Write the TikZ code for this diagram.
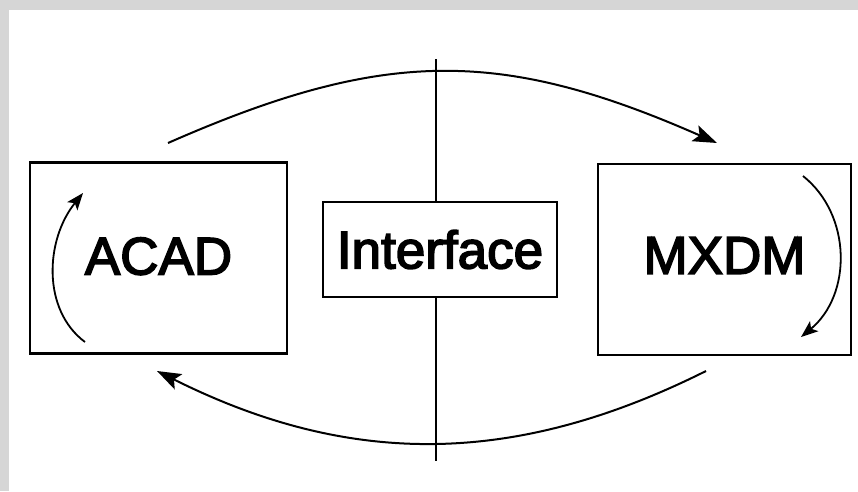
\documentclass[tikz,border=0pt]{standalone}
\usepackage{fontspec}
\setmainfont{Liberation Sans}[BoldFont=Liberation Sans,BoldFeatures={FakeBold=3}]
\usetikzlibrary{arrows.meta}
\definecolor{framegray}{HTML}{D6D6D6}

\begin{document}
\begin{tikzpicture}[x=1pt,y=-1pt,
box/.style={draw,line width=2.4pt,inner sep=0pt,font=\fontsize{53}{60}\selectfont\bfseries},
flow/.style={line width=2pt,-{Stealth[length=24pt,width=17pt,inset=5pt]}},
turn/.style={line width=1.8pt,-{Stealth[length=17pt,width=13pt,inset=4pt]}},
axis/.style={line width=2pt},
]
\fill[framegray] (0,0) rectangle (858,491);
\fill[white] (9,10) rectangle (858,491);
\useasboundingbox (0,0) rectangle (858,491);

\node[box,minimum width=257pt,minimum height=191pt] (acad) at (158.5,258) {\raisebox{4pt}{ACAD}};
\node[box,line width=1.8pt,minimum width=234pt,minimum height=95pt] (iface) at (440,249.5) {Interface};
\node[box,minimum width=253pt,minimum height=191pt] (mxdm) at (724.5,259.5) {\raisebox{8pt}{MXDM}};

% axis through the interface
\coordinate (up) at (436,59);
\coordinate (down) at (436,461);
\draw[axis] (up) -- (up |- iface.north);
\draw[axis,line width=1.6pt] (iface.south -| down) -- (down);

% exchange between the two sides
\coordinate (ts) at (168,143);
\coordinate (te) at (717,143);
\coordinate (bs) at (706,371);
\coordinate (be) at (157,371);
\draw[flow] (ts) .. controls (384,48) and (501,48) .. (te);
\draw[flow] (bs) .. controls (514,467) and (349,467) .. (be);

% inner cycles
\coordinate (as) at (85,342);
\coordinate (ae) at (83,193);
\coordinate (ms) at (803,176);
\coordinate (me) at (801,337);
\draw[turn] (as) .. controls (42,310) and (45,240) .. (ae);
\draw[turn] (ms) .. controls (852,215) and (852,295) .. (me);
\end{tikzpicture}
\end{document}
